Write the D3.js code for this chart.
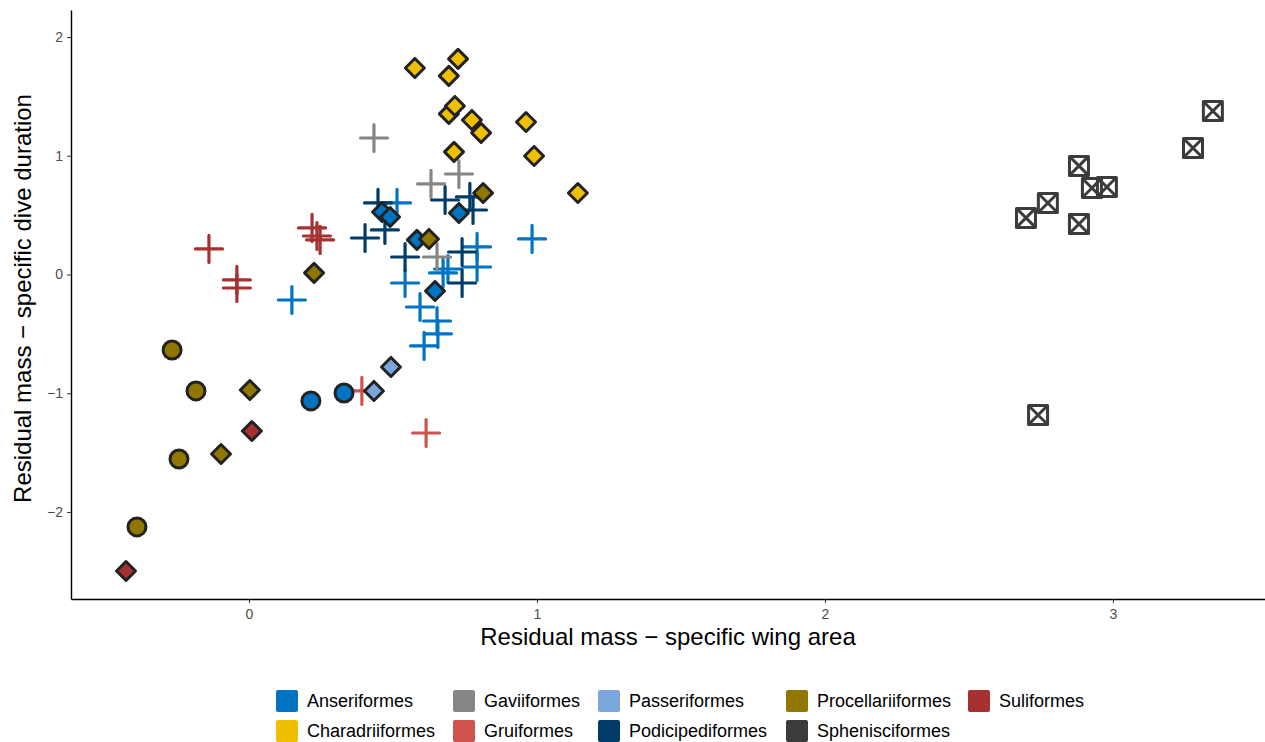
<!DOCTYPE html>
<html>
<head>
<meta charset="utf-8">
<script src="https://cdn.jsdelivr.net/npm/d3@7"></script>
<style>
  body { margin: 0; background: #fff; }
  text { font-family: "Liberation Sans", Arial, sans-serif; }
</style>
</head>
<body>
<div id="vis-container"></div>
<script>
// orders in legend order (alphabetical) and their colours
let orders = ["Anseriformes", "Charadriiformes", "Gaviiformes", "Gruiformes", "Passeriformes",
              "Podicipediformes", "Procellariiformes", "Sphenisciformes", "Suliformes"];
let orderColors = ["#0073C2", "#EFC000", "#868686", "#CD534C", "#7AA6DC",
                   "#003C67", "#8F7700", "#3B3B3B", "#A73030"];

// points: [wing area residual, dive duration residual, shape]
let anseriformes = [
  [0.514, 0.602, "plus"], [0.983, 0.299, "plus"], [0.149, -0.215, "plus"], [0.792, 0.232, "plus"],
  [0.792, 0.063, "plus"], [0.674, 0.013, "plus"], [0.691, 0.046, "plus"], [0.542, -0.072, "plus"],
  [0.594, -0.274, "plus"], [0.653, -0.392, "plus"], [0.656, -0.501, "plus"], [0.608, -0.602, "plus"],
  [0.462, 0.526, "diamond"], [0.490, 0.484, "diamond"], [0.583, 0.291, "diamond"],
  [0.729, 0.518, "diamond"], [0.646, -0.139, "diamond"],
  [0.215, -1.065, "circle"], [0.330, -0.998, "circle"]
];
let charadriiformes = [
  [0.576, 1.739, "diamond"], [0.726, 1.815, "diamond"], [0.694, 1.672, "diamond"],
  [0.694, 1.352, "diamond"], [0.715, 1.419, "diamond"], [0.774, 1.301, "diamond"],
  [0.806, 1.192, "diamond"], [0.962, 1.284, "diamond"], [0.712, 1.032, "diamond"],
  [0.990, 0.998, "diamond"], [1.142, 0.686, "diamond"]
];
let gaviiformes = [
  [0.434, 1.149, "plus"], [0.632, 0.762, "plus"], [0.729, 0.846, "plus"], [0.653, 0.147, "plus"]
];
let gruiformes = [
  [0.392, -0.981, "plus"], [0.615, -1.335, "plus"]
];
let passeriformes = [
  [0.434, -0.981, "diamond"], [0.493, -0.779, "diamond"]
];
let podicipediformes = [
  [0.448, 0.602, "plus"], [0.403, 0.307, "plus"], [0.472, 0.375, "plus"], [0.681, 0.627, "plus"],
  [0.767, 0.653, "plus"], [0.778, 0.543, "plus"], [0.542, 0.147, "plus"], [0.740, 0.189, "plus"],
  [0.740, -0.072, "plus"]
];
let procellariiformes = [
  [0.813, 0.686, "diamond"], [0.625, 0.299, "diamond"], [0.226, 0.013, "diamond"],
  [0.003, -0.973, "diamond"], [-0.097, -1.512, "diamond"],
  [-0.267, -0.636, "circle"], [-0.184, -0.981, "circle"], [-0.243, -1.554, "circle"],
  [-0.389, -2.126, "circle"]
];
let sphenisciformes = [
  [3.347, 1.377, "boxx"], [3.278, 1.065, "boxx"], [2.882, 0.914, "boxx"], [2.927, 0.728, "boxx"],
  [2.979, 0.737, "boxx"], [2.774, 0.602, "boxx"], [2.698, 0.476, "boxx"], [2.882, 0.425, "boxx"],
  [2.740, -1.183, "boxx"]
];
let suliformes = [
  [-0.139, 0.215, "plus"], [-0.042, -0.046, "plus"], [-0.042, -0.114, "plus"],
  [0.219, 0.392, "plus"], [0.236, 0.324, "plus"], [0.247, 0.291, "plus"],
  [0.010, -1.318, "diamond"], [-0.427, -2.497, "diamond"]
];

let xTicks = [0, 1, 2, 3];
let yTicks = [-2, -1, 0, 1, 2];

let byOrder = [anseriformes, charadriiformes, gaviiformes, gruiformes, passeriformes,
               podicipediformes, procellariiformes, sphenisciformes, suliformes];

let points = [];
byOrder.forEach((arr, i) => {
  arr.forEach(p => points.push({x: p[0], y: p[1], shape: p[2], order: orders[i]}));
});

let W = 1265, H = 742;
let margin = {top: 10, right: 0, bottom: 143, left: 71};
let width = W - margin.left - margin.right,
    height = H - margin.top - margin.bottom;

let color = d3.scaleOrdinal().domain(orders).range(orderColors);

let svg = d3.select("#vis-container")
  .append("svg")
  .attr("width", W)
  .attr("height", H);

let g = svg.append("g")
  .attr("transform", "translate(" + margin.left + "," + margin.top + ")");

let x = d3.scaleLinear().domain([-0.618, 3.528]).range([0, width]);
let y = d3.scaleLinear().domain([-2.733, 2.227]).range([height, 0]);

let fmt = d => d < 0 ? "\u2212" + (-d) : d;

// axes
let xAxis = g.append("g")
  .attr("transform", `translate(0,${height})`)
  .call(d3.axisBottom(x).tickValues(xTicks).tickSize(4).tickSizeOuter(0).tickFormat(fmt));
let yAxis = g.append("g")
  .call(d3.axisLeft(y).tickValues(yTicks).tickSize(4).tickSizeOuter(0).tickFormat(fmt));

[xAxis, yAxis].forEach(a => {
  a.attr("font-size", 14).attr("font-family", "Liberation Sans, Arial, sans-serif");
  a.select(".domain").attr("stroke", "#000").attr("stroke-width", 1.4);
  a.selectAll(".tick line").attr("stroke", "#333").attr("stroke-width", 1);
  a.selectAll(".tick text").attr("fill", "#4D4D4D");
});
xAxis.selectAll(".tick text").attr("dy", "0.9em");
yAxis.selectAll(".tick text").attr("x", -8);

// axis titles
svg.append("text")
  .attr("x", margin.left + width / 2)
  .attr("y", 645)
  .attr("text-anchor", "middle")
  .style("font-size", "24px")
  .text("Residual mass \u2212 specific wing area");

svg.append("text")
  .attr("transform", `translate(31,${margin.top + height / 2 - 6}) rotate(-90)`)
  .attr("text-anchor", "middle")
  .style("font-size", "24px")
  .text("Residual mass \u2212 specific dive duration");

// marks: pluses and boxes first, filled shapes on top
let drawOrder = {plus: 0, boxx: 1, circle: 2, diamond: 2};
let sorted = points.slice().sort((a, b) => drawOrder[a.shape] - drawOrder[b.shape]);

let marks = g.selectAll(".pt")
  .data(sorted)
  .enter()
  .append("g")
  .attr("class", "pt")
  .attr("transform", d => `translate(${x(d.x)},${y(d.y)})`);

marks.each(function(d) {
  let m = d3.select(this);
  let c = color(d.order);
  if (d.shape == "plus") {
    m.append("path")
      .attr("d", "M-13.5,0H13.5M0,-13.5V13.5")
      .attr("stroke", c)
      .attr("stroke-width", 3.2)
      .attr("stroke-linecap", "round")
      .attr("fill", "none");
  } else if (d.shape == "circle") {
    m.append("circle")
      .attr("r", 9)
      .attr("fill", c)
      .attr("stroke", "#222")
      .attr("stroke-width", 3);
  } else if (d.shape == "diamond") {
    m.append("path")
      .attr("d", "M0,-9.5L9.5,0L0,9.5L-9.5,0Z")
      .attr("fill", c)
      .attr("stroke", "#222")
      .attr("stroke-width", 3)
      .attr("stroke-linejoin", "round");
  } else {
    m.append("rect")
      .attr("x", -9.5).attr("y", -9.5)
      .attr("width", 19).attr("height", 19)
      .attr("fill", "none")
      .attr("stroke", c)
      .attr("stroke-width", 3)
      .attr("stroke-linejoin", "round");
    m.append("path")
      .attr("d", "M-9.5,-9.5L9.5,9.5M9.5,-9.5L-9.5,9.5")
      .attr("stroke", c)
      .attr("stroke-width", 3);
  }
});

// legend, two rows filled column by column
let legendX = [276, 453, 598, 786, 968];
let legendY = [701, 731];

let legend = svg.selectAll(".legend")
  .data(orders)
  .enter()
  .append("g")
  .attr("class", "legend")
  .attr("transform", (d, i) => `translate(${legendX[Math.floor(i / 2)]},${legendY[i % 2]})`);

legend.append("rect")
  .attr("x", 0).attr("y", -11)
  .attr("width", 22).attr("height", 22)
  .attr("rx", 2)
  .attr("fill", d => color(d));

legend.append("text")
  .attr("x", 31)
  .attr("y", 6)
  .style("font-size", "18px")
  .text(d => d);
</script>
</body>
</html>
